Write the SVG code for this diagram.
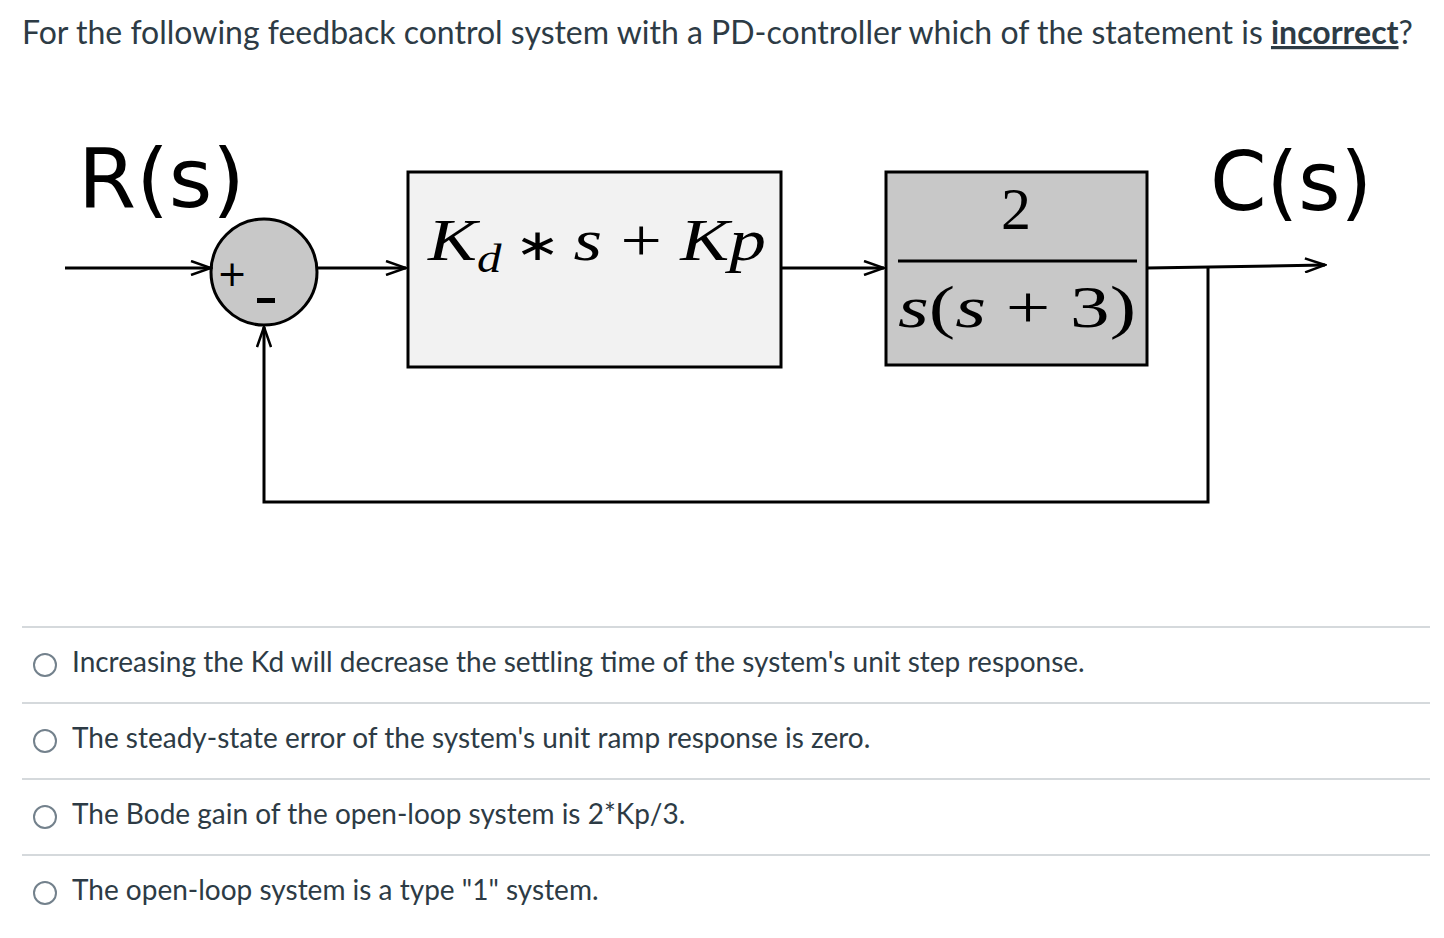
<svg xmlns="http://www.w3.org/2000/svg" width="1444" height="938" viewBox="0 0 1444 938">
<defs>
<marker id="a" markerWidth="24" markerHeight="16" refX="22" refY="8" orient="auto" markerUnits="userSpaceOnUse"><path d="M2,1 L22,8 L2,15" fill="none" stroke="#000" stroke-width="2.5"/></marker>
<style>
.t{font-family:Lato,"Liberation Sans",sans-serif;font-size:28px;fill:#2d3b45}
.q{font-family:Lato,"Liberation Sans",sans-serif;font-size:32px;fill:#2d3b45}
.lbl{font-family:"DejaVu Sans",sans-serif;font-size:82px}
.m{font-family:"Liberation Serif",serif;font-size:60px}
.c{fill:none;stroke:#000;stroke-width:3}
.sep{stroke:#c7cdd1;stroke-width:1.5}
.r{fill:#fff;stroke:#73818c;stroke-width:2}
</style>
</defs>
<rect width="1444" height="938" fill="#fff"/>
<text class="q" x="22" y="44">For the following feedback control system with a PD-controller which of the statement is <tspan font-weight="bold" text-decoration="underline">incorrect</tspan>?</text>
<g id="labels">
<text class="lbl" x="78" y="207" textLength="167" lengthAdjust="spacingAndGlyphs">R(s)</text>
<text class="lbl" x="1210" y="210" textLength="162" lengthAdjust="spacingAndGlyphs">C(s)</text>
</g>
<g id="sum">
<circle cx="264" cy="272" r="53" fill="#c8c8c8" stroke="#000" stroke-width="3"/>
<text x="217" y="286" font-family="DejaVu Sans,sans-serif" font-size="36">+</text>
<rect x="257" y="298" width="18" height="5" fill="#000"/>
</g>
<g id="controller">
<rect x="408" y="172" width="373" height="195" fill="#f2f2f2" stroke="#000" stroke-width="3"/>
<text class="m" x="428" y="260" font-style="italic" textLength="338" lengthAdjust="spacingAndGlyphs">K<tspan font-size="40" dy="12">d</tspan><tspan dy="-12" font-style="normal" font-size="44"> ∗ </tspan>s<tspan font-style="normal"> + </tspan>Kp</text>
</g>
<g id="plant">
<rect x="886" y="172" width="261" height="193" fill="#c8c8c8" stroke="#000" stroke-width="3"/>
<text class="m" x="1016" y="229" text-anchor="middle">2</text>
<line x1="898" y1="261" x2="1137" y2="261" stroke="#000" stroke-width="3"/>
<text class="m" x="898" y="327" textLength="238" lengthAdjust="spacingAndGlyphs"><tspan font-style="italic">s</tspan>(<tspan font-style="italic">s</tspan> + 3)</text>
</g>
<g id="connectors">
<line class="c" x1="65" y1="268" x2="211" y2="268" marker-end="url(#a)"/>
<line class="c" x1="317" y1="268" x2="406" y2="268" marker-end="url(#a)"/>
<line class="c" x1="781" y1="268" x2="884" y2="268" marker-end="url(#a)"/>
<line class="c" x1="1147" y1="268" x2="1325" y2="265" marker-end="url(#a)"/>
<polyline class="c" points="1208,266 1208,502 264,502 264,327" marker-end="url(#a)"/>
</g>
<g id="options">
<line class="sep" x1="22" y1="627" x2="1430" y2="627"/>
<circle class="r" cx="45" cy="665" r="11"/>
<text class="t" x="72" y="672">Increasing the Kd will decrease the settling time of the system's unit step response.</text>
<line class="sep" x1="22" y1="703" x2="1430" y2="703"/>
<circle class="r" cx="45" cy="741" r="11"/>
<text class="t" x="72" y="748">The steady-state error of the system's unit ramp response is zero.</text>
<line class="sep" x1="22" y1="779" x2="1430" y2="779"/>
<circle class="r" cx="45" cy="817" r="11"/>
<text class="t" x="72" y="824">The Bode gain of the open-loop system is 2*Kp/3.</text>
<line class="sep" x1="22" y1="855" x2="1430" y2="855"/>
<circle class="r" cx="45" cy="893" r="11"/>
<text class="t" x="72" y="900">The open-loop system is a type "1" system.</text>
</g>
</svg>
